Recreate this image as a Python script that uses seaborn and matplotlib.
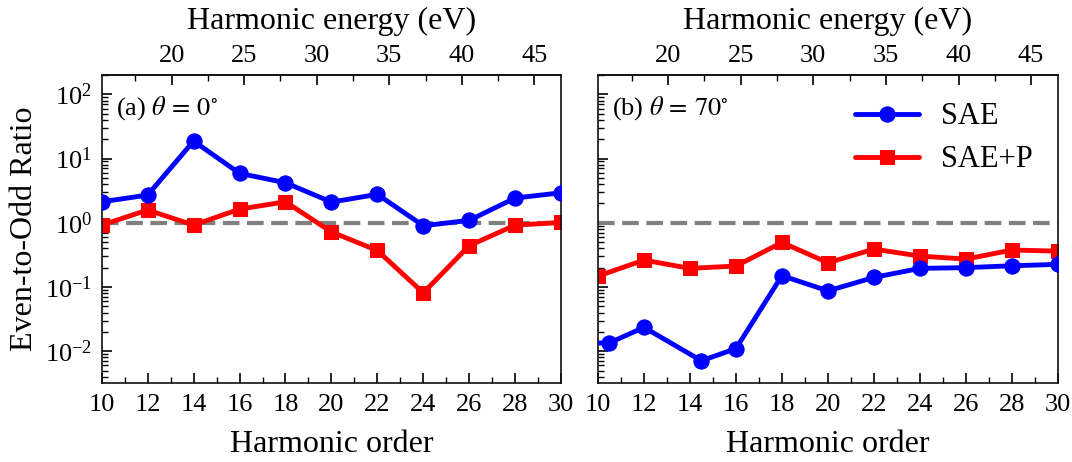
import numpy as np
import pandas as pd
import matplotlib
matplotlib.use("Agg")
import matplotlib.pyplot as plt
import seaborn as sns
from matplotlib.ticker import MultipleLocator, LogLocator, NullFormatter

# ---------------- data ----------------
order_a = [10, 12, 14, 16, 18, 20, 22, 24, 26, 28, 30]
sae_a = [2.12, 2.70, 18.7, 5.88, 4.2, 2.1, 2.77, 0.90, 1.09, 2.43, 2.93]
saep_a = [0.92, 1.58, 0.92, 1.63, 2.12, 0.72, 0.37, 0.081, 0.44, 0.92, 1.01]

order_b_sae = [9.5, 10.5, 12, 14.5, 16, 18, 20, 22, 24, 26, 28, 30]
sae_b = [0.0133, 0.0135, 0.0235, 0.0071, 0.011, 0.150, 0.087, 0.141, 0.195, 0.20, 0.214, 0.225]
order_b_saep = [10, 12, 14, 16, 18, 20, 22, 24, 26, 28, 30]
saep_b = [0.148, 0.262, 0.195, 0.212, 0.494, 0.238, 0.389, 0.303, 0.272, 0.376, 0.362]

panel_titles = [r"(a) $\theta\,=\,0^{\circ}$", r"(b) $\theta\,=\,70^{\circ}$"]
series_names = ["SAE", "SAE+P"]
xticks = [10, 12, 14, 16, 18, 20, 22, 24, 26, 28, 30]
energy_ticks = [20, 25, 30, 35, 40, 45]

EV_SLOPE, EV_OFF = 1.5837, -0.663

sns.set_style("ticks")
plt.rcParams["font.family"] = ["Liberation Serif", "DejaVu Serif"]
plt.rcParams["mathtext.fontset"] = "stix"
plt.rcParams["axes.edgecolor"] = "#111111"
plt.rcParams["axes.linewidth"] = 1.2
plt.rcParams["text.color"] = "black"
plt.rcParams["axes.labelcolor"] = "black"
plt.rcParams["xtick.color"] = "black"
plt.rcParams["ytick.color"] = "black"

fig = plt.figure(figsize=(10.72, 4.62), dpi=100)
axL = fig.add_axes([0.0949, 0.171, 0.4285, 0.6667])
axR = fig.add_axes([0.5578, 0.171, 0.4291, 0.6667])

blue = "#0000ff"
red = "#ff0000"

datasets = [
    (axL, order_a, sae_a, order_a, saep_a),
    (axR, order_b_sae, sae_b, order_b_saep, saep_b),
]

for i, (ax, xs1, ys1, xs2, ys2) in enumerate(datasets):
    ax.axhline(1.0, color="#808080", lw=3, ls=(0, (4, 1.8)), zorder=1)
    df1 = pd.DataFrame({"x": xs1, "y": ys1})
    df2 = pd.DataFrame({"x": xs2, "y": ys2})
    sns.lineplot(data=df1, x="x", y="y", ax=ax, color=blue, lw=3.5, marker="o",
                 markersize=11, markeredgecolor=blue, sort=False,
                 label=series_names[0], legend=False, zorder=3)
    sns.lineplot(data=df2, x="x", y="y", ax=ax, color=red, lw=3.5, marker="s",
                 markersize=10, markeredgecolor=red, sort=False,
                 label=series_names[1], legend=False, zorder=2)
    ax.set_yscale("log")
    ax.set_xlim(10, 30)
    ax.set_ylim(3.2e-3, 2.0e2)
    ax.set_xticks(xticks)
    ax.xaxis.set_minor_locator(MultipleLocator(1))
    ax.yaxis.set_major_locator(LogLocator(base=10, numticks=10))
    ax.yaxis.set_minor_locator(LogLocator(base=10, subs=np.arange(2, 10), numticks=20))
    ax.yaxis.set_minor_formatter(NullFormatter())
    ax.tick_params(axis="both", which="major", direction="in", length=7, width=1.2,
                   labelsize=19, top=False, right=False)
    ax.tick_params(axis="x", which="major", pad=8)
    ax.tick_params(axis="y", which="major", pad=7)
    ax.tick_params(axis="both", which="minor", direction="in", length=4, width=1.0,
                   top=False, right=False)
    ax.set_xlabel("Harmonic order", fontsize=23, labelpad=10)
    ax.set_ylabel("")
    ax.text(0.031, 0.893, panel_titles[i], transform=ax.transAxes, fontsize=19,
            va="center", ha="left")

    sec = ax.secondary_xaxis("top", functions=(lambda n: EV_SLOPE * n + EV_OFF,
                                              lambda e: (e - EV_OFF) / EV_SLOPE))
    sec.set_xticks(energy_ticks)
    sec.xaxis.set_minor_locator(MultipleLocator(2.5))
    sec.tick_params(axis="x", which="major", direction="in", length=7, width=1.2,
                    labelsize=19, pad=6)
    sec.tick_params(axis="x", which="minor", direction="in", length=4, width=1.0)
    sec.set_xlabel("Harmonic energy (eV)", fontsize=23, labelpad=11)

axL.set_ylabel("Even-to-Odd Ratio", fontsize=23, labelpad=4)
axR.tick_params(axis="y", which="both", labelleft=False)

handles, labels = axR.get_legend_handles_labels()
axR.legend(handles, labels, loc="upper right", bbox_to_anchor=(1.005, 1.0),
           frameon=False, fontsize=22, handlelength=2.1, handletextpad=0.72,
           labelspacing=0.45)

fig.savefig("out.png", dpi=100)
